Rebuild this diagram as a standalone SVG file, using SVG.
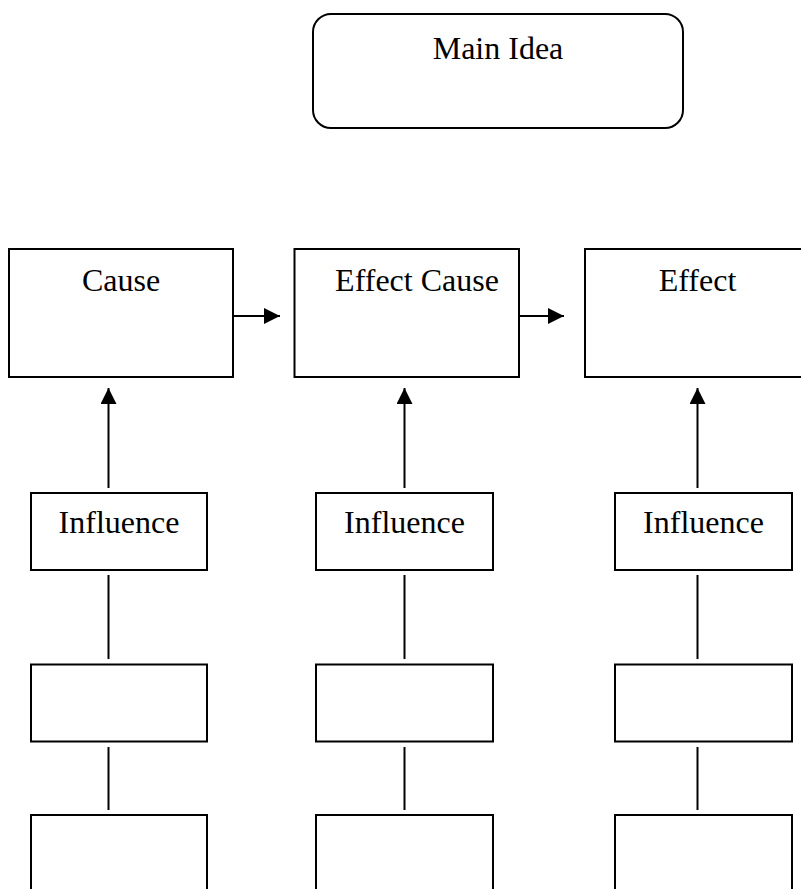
<svg xmlns="http://www.w3.org/2000/svg" width="801" height="889" viewBox="0 0 801 889">
<defs>
<style>
.box{fill:#fff;stroke:#000;stroke-width:2}
.t{font-family:"Liberation Serif","Times New Roman",serif;font-size:32px;fill:#000;text-anchor:middle}
.ln{stroke:#000;stroke-width:2;fill:none}
</style>
<marker id="ah" viewBox="0 0 10 10" refX="10" refY="5" markerWidth="17" markerHeight="16" markerUnits="userSpaceOnUse" orient="auto">
<path d="M0,0 L10,5 L0,10 z" fill="#000"/>
</marker>
</defs>
<rect width="801" height="889" fill="#fff"/>
<g id="connectors">
<line class="ln" x1="233" y1="316" x2="280" y2="316" marker-end="url(#ah)"/>
<line class="ln" x1="519" y1="316" x2="564" y2="316" marker-end="url(#ah)"/>
<line class="ln" x1="108.5" y1="488" x2="108.5" y2="388" marker-end="url(#ah)"/>
<line class="ln" x1="404.5" y1="488" x2="404.5" y2="388" marker-end="url(#ah)"/>
<line class="ln" x1="697.5" y1="488" x2="697.5" y2="388" marker-end="url(#ah)"/>
<line class="ln" x1="108.5" y1="575" x2="108.5" y2="659"/>
<line class="ln" x1="404.5" y1="575" x2="404.5" y2="659"/>
<line class="ln" x1="697.5" y1="575" x2="697.5" y2="659"/>
<line class="ln" x1="108.5" y1="747" x2="108.5" y2="810"/>
<line class="ln" x1="404.5" y1="747" x2="404.5" y2="810"/>
<line class="ln" x1="697.5" y1="747" x2="697.5" y2="810"/>
</g>
<g id="main-idea">
<rect class="box" x="313" y="14" width="370" height="114" rx="18"/>
<text class="t" x="498" y="59">Main Idea</text>
</g>
<g id="cause">
<rect class="box" x="9" y="249" width="224" height="128"/>
<text class="t" x="121" y="291">Cause</text>
</g>
<g id="effect-cause">
<rect class="box" x="294.5" y="249" width="224.5" height="128"/>
<text class="t" x="417" y="291">Effect Cause</text>
</g>
<g id="effect">
<rect class="box" x="585" y="249" width="224" height="128"/>
<text class="t" x="697.5" y="291">Effect</text>
</g>
<g id="influence-1">
<rect class="box" x="31" y="493" width="176" height="77"/>
<text class="t" x="119" y="532.5">Influence</text>
</g>
<g id="influence-2">
<rect class="box" x="316" y="493" width="177" height="77"/>
<text class="t" x="404.5" y="532.5">Influence</text>
</g>
<g id="influence-3">
<rect class="box" x="615" y="493" width="177" height="77"/>
<text class="t" x="703.5" y="532.5">Influence</text>
</g>
<g id="box-1a"><rect class="box" x="31" y="664.5" width="176" height="77"/></g>
<g id="box-2a"><rect class="box" x="316" y="664.5" width="177" height="77"/></g>
<g id="box-3a"><rect class="box" x="615" y="664.5" width="177" height="77"/></g>
<g id="box-1b"><rect class="box" x="31" y="815" width="176" height="90"/></g>
<g id="box-2b"><rect class="box" x="316" y="815" width="177" height="90"/></g>
<g id="box-3b"><rect class="box" x="615" y="815" width="177" height="90"/></g>
</svg>
